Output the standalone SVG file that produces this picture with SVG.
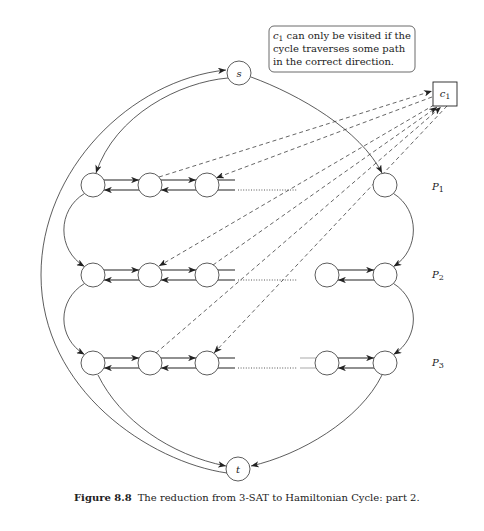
<svg xmlns="http://www.w3.org/2000/svg" width="484" height="531" viewBox="0 0 484 531">
  <style>
    .node { fill: #fff; stroke: #333; stroke-width: 0.8; }
    .lbl { font-family: "DejaVu Serif", "Liberation Serif", serif; font-size: 10px; fill: #222; }
    .it { font-style: italic; }
    .curve { fill: none; stroke: #333; stroke-width: 0.8; }
    .path { fill: none; stroke: #222; stroke-width: 1.2; }
    .grey { fill: none; stroke: #aaa; stroke-width: 1.2; }
    .dots { fill: none; stroke: #444; stroke-width: 0.9; stroke-dasharray: 1 1.6; }
    .dash { fill: none; stroke: #333; stroke-width: 0.75; stroke-dasharray: 4 3; }
  </style>
  <defs>
    <marker id="ah" viewBox="0 0 10 8" refX="10" refY="4" markerWidth="8" markerHeight="6.4" markerUnits="userSpaceOnUse" orient="auto">
      <path d="M0,0 L10,4 L0,8 L2.8,4 Z" fill="#222"/>
    </marker>
  </defs>

  <rect width="484" height="531" fill="#fff"/>

  <!-- connectors -->
  <g id="connectors">
    <!-- s to the two ends of P1, outer return arc t to s -->
    <path class="curve" d="M251,77 C300,95 360,130 382,173" marker-end="url(#ah)"/>
    <path class="curve" d="M228,78 C180,82 115,115 96,173" marker-end="url(#ah)"/>
    <path class="curve" d="M227,473 C150,462 41,390 41,275 C41,170 130,80 226,70" marker-end="url(#ah)"/>

    <!-- links between consecutive paths -->
    <path class="curve" d="M84.5,193.5 C57,210 57,250 84.5,266.5" marker-end="url(#ah)"/>
    <path class="curve" d="M84.5,283.5 C57,300 57,338 84.5,354.5" marker-end="url(#ah)"/>
    <path class="curve" d="M393.5,193.5 C420,210 420,250 393.5,266.5" marker-end="url(#ah)"/>
    <path class="curve" d="M393.5,283.5 C420,300 420,338 393.5,354.5" marker-end="url(#ah)"/>

    <!-- P3 ends to t -->
    <path class="curve" d="M98,375 C120,420 170,455 226,466" marker-end="url(#ah)"/>
    <path class="curve" d="M382,375 C360,420 300,455 251,466" marker-end="url(#ah)"/>

    <!-- P1 -->
    <path class="path" d="M103.9,180 H139.1" marker-end="url(#ah)"/>
    <path class="path" d="M139.1,190 H103.9" marker-end="url(#ah)"/>
    <path class="path" d="M160.9,180 H196.1" marker-end="url(#ah)"/>
    <path class="path" d="M196.1,190 H160.9" marker-end="url(#ah)"/>
    <path class="path" d="M217.9,180 H235 M217.9,190 H235"/>
    <path class="dots" d="M238,190 H297"/>

    <!-- P2 -->
    <path class="path" d="M103.9,270 H139.1" marker-end="url(#ah)"/>
    <path class="path" d="M139.1,280 H103.9" marker-end="url(#ah)"/>
    <path class="path" d="M160.9,270 H196.1" marker-end="url(#ah)"/>
    <path class="path" d="M196.1,280 H160.9" marker-end="url(#ah)"/>
    <path class="path" d="M217.9,270 H235 M217.9,280 H235"/>
    <path class="dots" d="M238,280 H297"/>
    <path class="path" d="M337.9,270 H374.1" marker-end="url(#ah)"/>
    <path class="path" d="M374.1,280 H337.9" marker-end="url(#ah)"/>

    <!-- P3 -->
    <path class="path" d="M103.9,358 H139.1" marker-end="url(#ah)"/>
    <path class="path" d="M139.1,368 H103.9" marker-end="url(#ah)"/>
    <path class="path" d="M160.9,358 H196.1" marker-end="url(#ah)"/>
    <path class="path" d="M196.1,368 H160.9" marker-end="url(#ah)"/>
    <path class="path" d="M217.9,358 H235 M217.9,368 H235"/>
    <path class="dots" d="M238,368 H297"/>
    <path class="grey" d="M300,358 H316.1 M300,368 H316.1"/>
    <path class="path" d="M337.9,358 H374.1" marker-end="url(#ah)"/>
    <path class="path" d="M374.1,368 H337.9" marker-end="url(#ah)"/>

    <!-- clause c1 edges -->
    <path class="dash" d="M159,177 L432,91" marker-end="url(#ah)"/>
    <path class="dash" d="M432,97 L216,178" marker-end="url(#ah)"/>
    <path class="dash" d="M434,105 L159,266" marker-end="url(#ah)"/>
    <path class="dash" d="M213,265 L437,107" marker-end="url(#ah)"/>
    <path class="dash" d="M156,353 L441,107" marker-end="url(#ah)"/>
    <path class="dash" d="M447,106 L214,353" marker-end="url(#ah)"/>
  </g>

  <!-- nodes -->
  <g id="s"><circle class="node" cx="239" cy="73" r="12"/><text class="lbl it" x="239" y="76.5" text-anchor="middle">s</text></g>
  <g id="t"><circle class="node" cx="238" cy="469" r="12"/><text class="lbl it" x="238" y="472.5" text-anchor="middle">t</text></g>

  <g id="p1-1"><circle class="node" cx="93" cy="185" r="12"/></g>
  <g id="p1-2"><circle class="node" cx="150" cy="185" r="12"/></g>
  <g id="p1-3"><circle class="node" cx="207" cy="185" r="12"/></g>
  <g id="p1-n"><circle class="node" cx="385" cy="185" r="12"/></g>

  <g id="p2-1"><circle class="node" cx="93" cy="275" r="12"/></g>
  <g id="p2-2"><circle class="node" cx="150" cy="275" r="12"/></g>
  <g id="p2-3"><circle class="node" cx="207" cy="275" r="12"/></g>
  <g id="p2-m"><circle class="node" cx="327" cy="275" r="12"/></g>
  <g id="p2-n"><circle class="node" cx="385" cy="275" r="12"/></g>

  <g id="p3-1"><circle class="node" cx="93" cy="363" r="12"/></g>
  <g id="p3-2"><circle class="node" cx="150" cy="363" r="12"/></g>
  <g id="p3-3"><circle class="node" cx="207" cy="363" r="12"/></g>
  <g id="p3-m"><circle class="node" cx="327" cy="363" r="12"/></g>
  <g id="p3-n"><circle class="node" cx="385" cy="363" r="12"/></g>

  <g id="c1">
    <rect x="433" y="82" width="24" height="24" fill="#fff" stroke="#222" stroke-width="0.9"/>
    <text class="lbl" x="445" y="97" text-anchor="middle"><tspan class="it">c</tspan><tspan font-size="7.5" dy="2">1</tspan></text>
  </g>

  <g id="note">
    <rect x="269" y="26" width="146" height="46" rx="5" fill="#fff" stroke="#444" stroke-width="0.8"/>
    <text class="lbl" x="273" y="39"><tspan class="it">c</tspan><tspan font-size="7.5" dy="2">1</tspan><tspan dy="-2"> can only be visited if the</tspan></text>
    <text class="lbl" x="273" y="52">cycle traverses some path</text>
    <text class="lbl" x="273" y="65">in the correct direction.</text>
  </g>

  <!-- path labels -->
  <g id="labels">
    <text class="lbl" x="432" y="190" font-size="11"><tspan class="it">P</tspan><tspan font-size="8" dy="2">1</tspan></text>
    <text class="lbl" x="432" y="278" font-size="11"><tspan class="it">P</tspan><tspan font-size="8" dy="2">2</tspan></text>
    <text class="lbl" x="432" y="366" font-size="11"><tspan class="it">P</tspan><tspan font-size="8" dy="2">3</tspan></text>
  </g>

  <text class="lbl" x="74" y="501" font-size="10.5"><tspan font-weight="bold">Figure 8.8</tspan><tspan dx="6">The reduction from 3-SAT to Hamiltonian Cycle: part 2.</tspan></text>
</svg>
